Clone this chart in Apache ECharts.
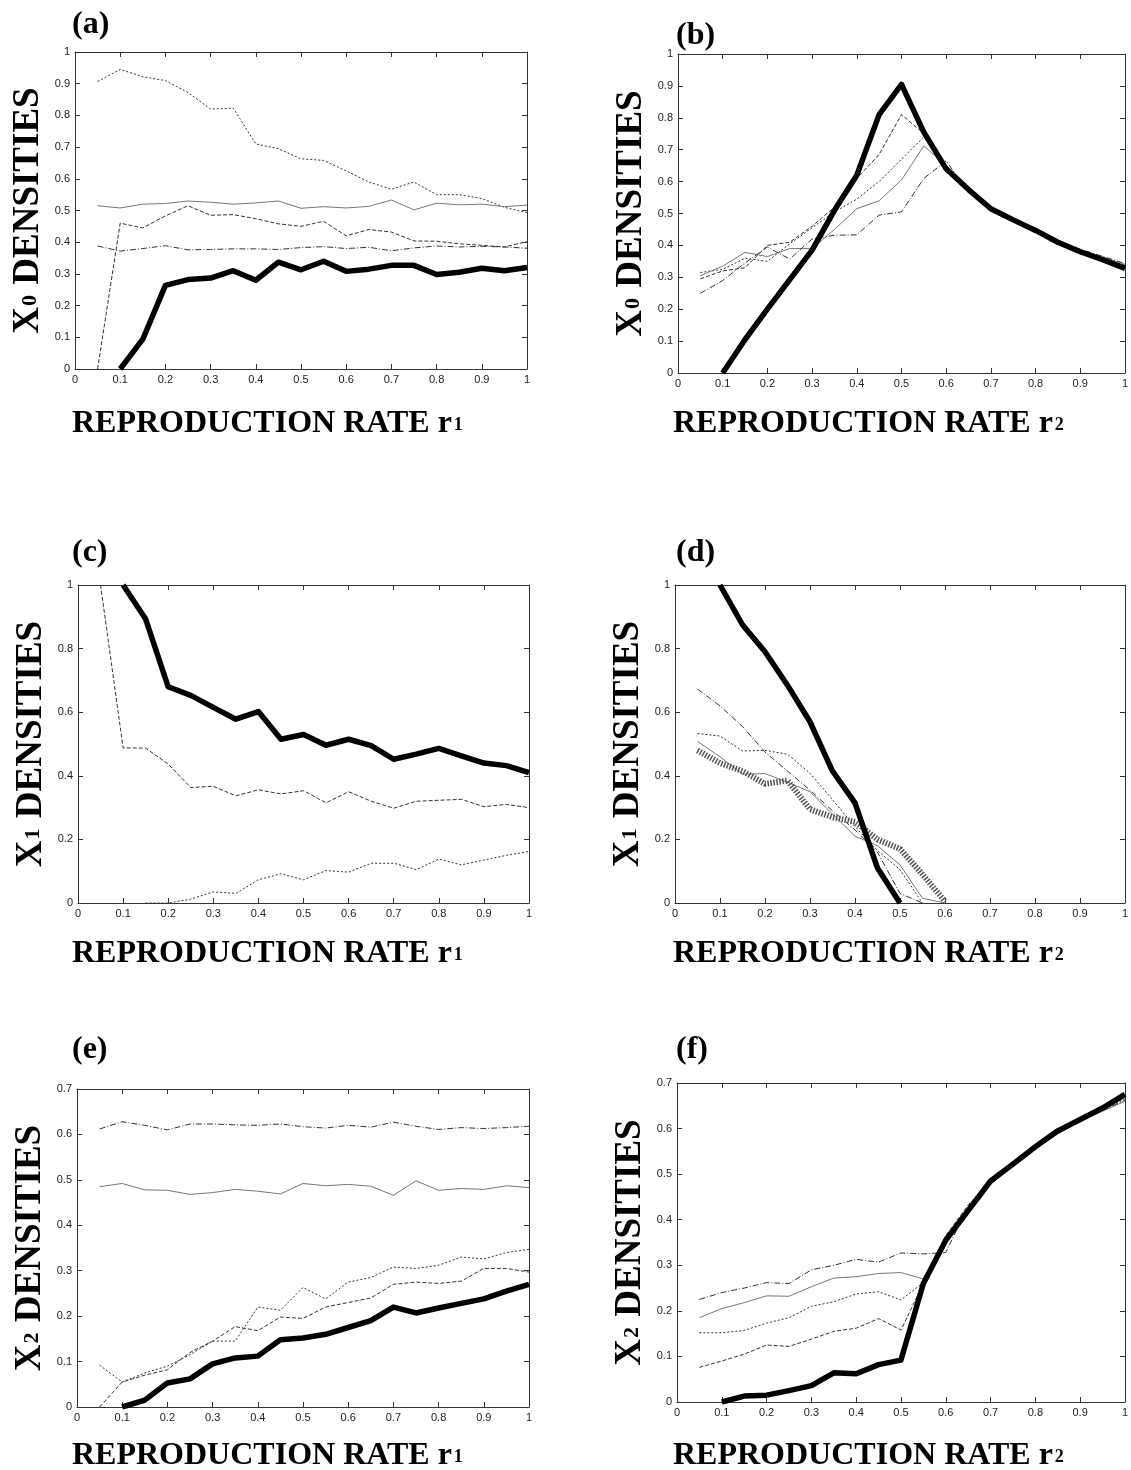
<!DOCTYPE html>
<html><head><meta charset="utf-8">
<script src="https://cdn.jsdelivr.net/npm/echarts@6/dist/echarts.min.js"></script>
<style>html,body{margin:0;padding:0;background:#fff}#c{width:1131px;height:1470px}</style>
</head><body><div id="c"></div>
<script>
// x values (reproduction rate)
const R = [0.05,0.1,0.15,0.2,0.25,0.3,0.35,0.4,0.45,0.5,0.55,0.6,0.65,0.7,0.75,0.8,0.85,0.9,0.95,1.0];

// (a) X0 densities vs r1
const a_thick   = [null,0,0.094,0.264,0.282,0.287,0.31,0.28,0.337,0.313,0.34,0.308,0.315,0.327,0.327,0.298,0.305,0.318,0.31,0.32];
const a_dot     = [0.907,0.945,0.922,0.91,0.872,0.82,0.823,0.71,0.695,0.663,0.658,0.625,0.59,0.567,0.59,0.55,0.55,0.538,0.51,0.493];
const a_solid   = [0.515,0.508,0.52,0.522,0.53,0.526,0.52,0.524,0.53,0.507,0.512,0.508,0.513,0.533,0.502,0.523,0.518,0.52,0.512,0.517];
const a_dash    = [0,0.46,0.445,0.483,0.515,0.485,0.487,0.474,0.458,0.45,0.466,0.42,0.44,0.432,0.404,0.403,0.395,0.39,0.385,0.402];
const a_dashdot = [0.388,0.372,0.38,0.389,0.376,0.377,0.379,0.379,0.377,0.383,0.386,0.38,0.384,0.373,0.382,0.388,0.385,0.387,0.385,0.381];

// (b) X0 densities vs r2
const b_thick   = [null,0,0.105,0.2,0.293,0.385,0.51,0.62,0.81,0.905,0.755,0.64,0.575,0.515,0.48,0.447,0.41,0.38,0.355,0.328];
const b_dash    = [0.295,0.32,0.33,0.4,0.41,0.46,0.52,0.61,0.685,0.81,0.75,0.64,0.57,0.515,0.482,0.449,0.412,0.383,0.36,0.335];
const b_dot     = [0.315,0.325,0.36,0.35,0.405,0.455,0.505,0.545,0.6,0.67,0.74,0.645,0.572,0.518,0.484,0.45,0.414,0.385,0.362,0.338];
const b_solid   = [0.305,0.335,0.378,0.365,0.39,0.39,0.45,0.515,0.54,0.605,0.712,0.65,0.57,0.52,0.485,0.451,0.415,0.386,0.364,0.34];
const b_dashdot = [0.25,0.29,0.345,0.395,0.357,0.42,0.432,0.433,0.495,0.505,0.61,0.665,0.565,0.522,0.486,0.452,0.416,0.388,0.366,0.343];

// (c) X1 densities vs r1
const c_thick = [null,1.0,0.893,0.68,0.653,0.615,0.578,0.602,0.515,0.53,0.496,0.515,0.495,0.452,0.468,0.486,0.463,0.44,0.432,0.41];
const c_dash  = [1.0,0.488,0.487,0.437,0.363,0.367,0.337,0.356,0.343,0.353,0.315,0.35,0.32,0.298,0.32,0.323,0.326,0.303,0.31,0.3];
const c_dot   = [null,null,0,0,0.012,0.035,0.03,0.073,0.092,0.073,0.102,0.097,0.125,0.125,0.105,0.138,0.12,0.135,0.15,0.162];

// (d) X1 densities vs r2
const d_thick   = [null,1.0,0.875,0.79,0.685,0.57,0.415,0.315,0.11,0,null,null,null,null,null,null,null,null,null,null];
const d_dashdot = [0.673,0.62,0.555,0.475,0.415,0.355,0.29,0.23,0.16,0.03,0,null,null,null,null,null,null,null,null,null];
const d_dot     = [0.533,0.525,0.478,0.48,0.468,0.408,0.325,0.24,0.165,0.105,0,null,null,null,null,null,null,null,null,null];
const d_solid   = [0.508,0.46,0.405,0.407,0.38,0.35,0.28,0.21,0.18,0.12,0.015,0,null,null,null,null,null,null,null,null];
const d_hatch   = [0.48,0.44,0.415,0.375,0.385,0.295,0.27,0.255,0.2,0.17,0.09,0.005,null,null,null,null,null,null,null,null];

// (e) X2 densities vs r1
const e_thick   = [null,0,0.015,0.053,0.062,0.095,0.108,0.112,0.148,0.152,0.16,0.175,0.19,0.22,0.207,0.218,0.228,0.238,0.255,0.27];
const e_dashdot = [0.612,0.628,0.62,0.61,0.623,0.623,0.621,0.62,0.623,0.617,0.614,0.62,0.616,0.627,0.618,0.611,0.615,0.613,0.615,0.618];
const e_solid   = [0.485,0.492,0.478,0.477,0.468,0.472,0.479,0.475,0.469,0.492,0.487,0.49,0.486,0.466,0.498,0.477,0.481,0.479,0.487,0.483];
const e_dot     = [0.092,0.055,0.075,0.09,0.115,0.145,0.145,0.22,0.213,0.263,0.238,0.275,0.285,0.308,0.305,0.312,0.33,0.326,0.34,0.347];
const e_dash    = [0,0.055,0.07,0.082,0.12,0.145,0.177,0.168,0.198,0.195,0.22,0.23,0.24,0.27,0.275,0.272,0.277,0.305,0.305,0.297];

// (f) X2 densities vs r2
const f_thick   = [null,0,0.013,0.015,0.025,0.036,0.064,0.062,0.082,0.092,0.26,0.355,0.42,0.485,0.522,0.56,0.595,0.62,0.645,0.675];
const f_dashdot = [0.225,0.24,0.25,0.262,0.26,0.29,0.3,0.313,0.307,0.327,0.325,0.328,0.43,0.478,0.518,0.555,0.59,0.615,0.64,0.662];
const f_solid   = [0.185,0.205,0.218,0.233,0.232,0.253,0.272,0.275,0.282,0.284,0.27,0.36,0.425,0.482,0.52,0.556,0.588,0.616,0.638,0.66];
const f_dot     = [0.152,0.152,0.157,0.173,0.185,0.21,0.22,0.237,0.242,0.224,0.262,0.36,0.428,0.48,0.52,0.557,0.59,0.617,0.64,0.665];
const f_dash    = [0.076,0.09,0.105,0.125,0.122,0.138,0.155,0.162,0.183,0.158,0.26,0.365,0.432,0.487,0.523,0.558,0.592,0.619,0.642,0.668];

const panelLabels = ['(a)','(b)','(c)','(d)','(e)','(f)'];
const yNames = [['X','0'],['X','0'],['X','1'],['X','1'],['X','2'],['X','2']];
const xSubs = ['1','2','1','2','1','2'];
const yMax = [1,1,1,1,0.7,0.7];
const yStep = [0.1,0.1,0.2,0.2,0.1,0.1];

const ST = {
  thick:  {color:'#000', width:5.5},
  dot:    {color:'#333', width:1, type:[2,2]},
  dash:   {color:'#333', width:1, type:[4,2]},
  dashdot:{color:'#333', width:1, type:[6,2,1,2]},
  solid:  {color:'#777', width:1},
  hatch:  {color:'#555', width:6, type:[1.5,1.5]}
};

const panelSeries = [
  [[a_dot,'dot'],[a_solid,'solid'],[a_dash,'dash'],[a_dashdot,'dashdot'],[a_thick,'thick']],
  [[b_dash,'dash'],[b_dot,'dot'],[b_solid,'solid'],[b_dashdot,'dashdot'],[b_thick,'thick']],
  [[c_dash,'dash'],[c_dot,'dot'],[c_thick,'thick']],
  [[d_dashdot,'dashdot'],[d_dot,'dot'],[d_solid,'solid'],[d_hatch,'hatch'],[d_thick,'thick']],
  [[e_dashdot,'dashdot'],[e_solid,'solid'],[e_dot,'dot'],[e_dash,'dash'],[e_thick,'thick']],
  [[f_dashdot,'dashdot'],[f_solid,'solid'],[f_dot,'dot'],[f_dash,'dash'],[f_thick,'thick']]
];

const grids = [
  {left:75, top:52, width:452, height:317},
  {left:678, top:54, width:451, height:319},
  {left:78, top:585, width:451, height:318},
  {left:675, top:585, width:451, height:318},
  {left:77, top:1089, width:452, height:318},
  {left:677, top:1083, width:450, height:319}
];
const panelLabelPos = [[72,9],[676,20],[72,537],[676,537],[72,1034],[676,1034]];
const xNamePos = [[72,408],[673,408],[72,938],[673,938],[72,1440],[673,1440]];

const serif = 'Liberation Serif';
const tickFont = {fontFamily:'Liberation Sans', fontSize:11, color:'#222'};
const axisLineStyle = {color:'#333', width:1};

const xAxes = [], yAxes = [], series = [], titles = [];
grids.forEach((g,i)=>{
  xAxes.push({gridIndex:i, type:'value', min:0, max:1, interval:0.1, position:'bottom',
    axisLine:{onZero:false, lineStyle:axisLineStyle},
    axisTick:{inside:true, length:5, lineStyle:axisLineStyle},
    axisLabel:Object.assign({margin:5}, tickFont), splitLine:{show:false}});
  xAxes.push({gridIndex:i, type:'value', min:0, max:1, interval:0.1, position:'top',
    axisLine:{onZero:false, lineStyle:axisLineStyle},
    axisTick:{inside:true, length:5, lineStyle:axisLineStyle},
    axisLabel:{show:false}, splitLine:{show:false}});
  yAxes.push({gridIndex:i, type:'value', min:0, max:yMax[i], interval:yStep[i], position:'left',
    axisLine:{onZero:false, lineStyle:axisLineStyle},
    axisTick:{inside:true, length:5, lineStyle:axisLineStyle},
    axisLabel:Object.assign({margin:5}, tickFont), splitLine:{show:false},
    name:'{b|'+yNames[i][0]+'}{s|'+yNames[i][1]+'}{b| DENSITIES}',
    nameLocation:'middle', nameRotate:90, nameGap:28,
    nameTextStyle:{rich:{
      b:{fontFamily:serif, fontWeight:'bold', fontSize:37, color:'#000'},
      s:{fontFamily:serif, fontWeight:'bold', fontSize:22, color:'#000', verticalAlign:'bottom', padding:[0,1,6,1]}
    }}});
  yAxes.push({gridIndex:i, type:'value', min:0, max:yMax[i], interval:yStep[i], position:'right',
    axisLine:{onZero:false, lineStyle:axisLineStyle},
    axisTick:{inside:true, length:5, lineStyle:axisLineStyle},
    axisLabel:{show:false}, splitLine:{show:false}});
  panelSeries[i].forEach(([arr,st])=>{
    const data = [];
    R.forEach((x,k)=>{ if (arr[k] !== null && arr[k] !== undefined) data.push([x, arr[k]]); });
    series.push({type:'line', xAxisIndex:i*2, yAxisIndex:i*2, data:data, showSymbol:false, symbol:'none',
      lineStyle:Object.assign({cap:'butt', join:'round'}, ST[st]), silent:true, z: st==='thick'?5:3});
  });
  titles.push({text:panelLabels[i], left:panelLabelPos[i][0], top:panelLabelPos[i][1], padding:0,
    textStyle:{fontFamily:serif, fontWeight:'bold', fontSize:32, color:'#000'}});
  titles.push({text:'{b|REPRODUCTION RATE r}{s|'+xSubs[i]+'}', left:xNamePos[i][0], top:xNamePos[i][1], padding:0,
    textStyle:{rich:{
      b:{fontFamily:serif, fontWeight:'bold', fontSize:32, color:'#000'},
      s:{fontFamily:serif, fontWeight:'bold', fontSize:18, color:'#000', verticalAlign:'bottom', padding:[0,0,6,2]}
    }}});
});

const chart = echarts.init(document.getElementById('c'), null, {renderer:'canvas'});
chart.setOption({
  animation:false,
  backgroundColor:'#fff',
  title:titles,
  grid:grids,
  xAxis:xAxes,
  yAxis:yAxes,
  series:series
});
</script>
</body></html>
